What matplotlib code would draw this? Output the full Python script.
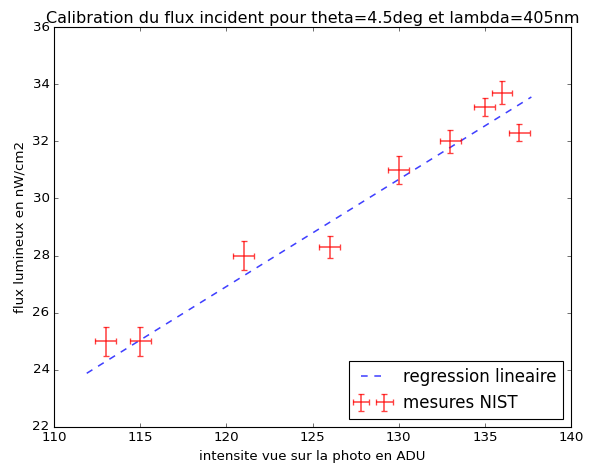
import matplotlib
matplotlib.use("Agg")
import matplotlib.pyplot as plt

# mesures NIST
intensite = [113, 115, 121, 126, 130, 133, 135, 136, 137]
flux = [25.0, 25.0, 28.0, 28.3, 31.0, 32.0, 33.2, 33.7, 32.3]
err_flux = [0.5, 0.5, 0.5, 0.4, 0.5, 0.4, 0.3, 0.4, 0.3]
err_intensite = [0.6, 0.6, 0.6, 0.6, 0.6, 0.6, 0.6, 0.6, 0.6]

# droite de regression (extremites)
reg_x = [111.9, 137.7]
reg_y = [23.88, 33.55]

plt.style.use('classic')

fig = plt.figure(figsize=(593 / 80, 470 / 80), dpi=80, facecolor='white')
ax = fig.add_axes([54 / 593, 1 - 427 / 470, (571 - 54) / 593, (427 - 27) / 470])

ax.plot(reg_x, reg_y, 'b--', lw=1.4, alpha=0.75, label='regression lineaire')
ax.errorbar(intensite, flux, xerr=err_intensite, yerr=err_flux, fmt='none',
            ecolor='r', elinewidth=1.4, capthick=1.2, alpha=0.75, capsize=3,
            label='mesures NIST')

ax.set_xlim(110, 140)
ax.set_ylim(22, 36)
ax.set_title('Calibration du flux incident pour theta=4.5deg et lambda=405nm', y=0.995)
ax.set_xlabel('intensite vue sur la photo en ADU')
ax.set_ylabel('flux lumineux en nW/cm2')
ax.legend(loc='lower right', numpoints=2, fontsize=15)

fig.savefig('out.png', dpi=80, facecolor='white')
